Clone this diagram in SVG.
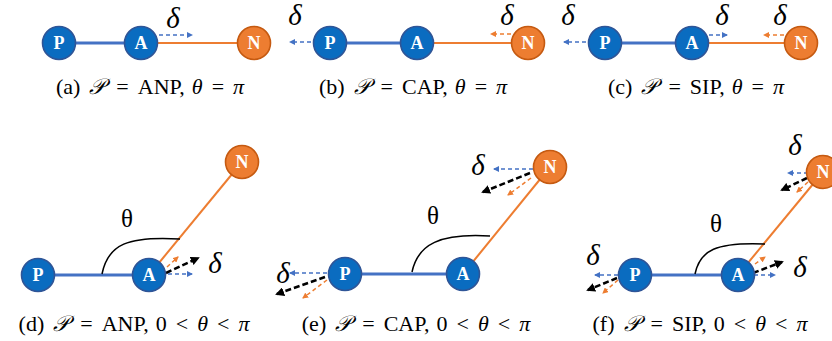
<svg xmlns="http://www.w3.org/2000/svg" width="832" height="341" viewBox="0 0 832 341">
<defs>
<style>
.bg{fill:#fff}
.nb{fill:#0A6CC0;stroke:#2F5597;stroke-width:1.6}
.no{fill:#ED7D31;stroke:#C55A11;stroke-width:1.6}
.lb{font-family:"Liberation Serif",serif;font-weight:bold;font-size:18px;fill:#fff;text-anchor:middle}
.eb{stroke:#4472C4;stroke-width:3;fill:none}
.eo{stroke:#ED7D31;stroke-width:2;fill:none}
.db{stroke:#4472C4;stroke-width:1.5;stroke-dasharray:4 3;fill:none;marker-end:url(#mb)}
.do{stroke:#ED7D31;stroke-width:1.5;stroke-dasharray:4 3;fill:none;marker-end:url(#mo)}
.dk{stroke:#000;stroke-width:2.5;stroke-dasharray:6 3;fill:none;marker-end:url(#mk)}
.arc{stroke:#000;stroke-width:1.5;fill:none}
.dl{font-family:"Liberation Serif",serif;font-style:italic;font-size:29px;fill:#000;text-anchor:middle}
.th{font-family:"Liberation Serif",serif;font-size:25px;fill:#000;text-anchor:middle}
.cap{font-family:"Liberation Serif","DejaVu Serif",serif;font-size:22px;fill:#000;text-anchor:middle}
.it{font-style:italic}
</style>
<marker id="mb" markerWidth="6" markerHeight="6" refX="5" refY="3" orient="auto" markerUnits="userSpaceOnUse"><path d="M0,0 L6,3 L0,6 Z" fill="#4472C4"/></marker>
<marker id="mo" markerWidth="6" markerHeight="6" refX="5" refY="3" orient="auto" markerUnits="userSpaceOnUse"><path d="M0,0 L6,3 L0,6 Z" fill="#ED7D31"/></marker>
<marker id="mk" markerWidth="9" markerHeight="9" refX="7" refY="4.5" orient="auto" markerUnits="userSpaceOnUse"><path d="M0,0 L9,4.5 L0,9 Z" fill="#000"/></marker>
</defs>
<rect class="bg" x="0" y="0" width="832" height="341"/>

<g id="connectors">
  <line class="eb" x1="59" y1="43" x2="141" y2="43"/>
  <line class="eo" x1="141" y1="43" x2="254" y2="43"/>
  <line class="db" x1="159" y1="35" x2="192" y2="35"/>
  <line class="eb" x1="330" y1="43" x2="417" y2="43"/>
  <line class="eo" x1="417" y1="43" x2="528" y2="43"/>
  <line class="db" x1="311" y1="42" x2="290" y2="42"/>
  <line class="do" x1="511" y1="34" x2="491" y2="34"/>
  <line class="eb" x1="605" y1="43" x2="692" y2="43"/>
  <line class="eo" x1="692" y1="43" x2="801" y2="43"/>
  <line class="db" x1="586" y1="42" x2="564" y2="42"/>
  <line class="db" x1="709" y1="35" x2="727" y2="35"/>
  <line class="do" x1="784" y1="35" x2="764" y2="35"/>
  <line class="eb" x1="38" y1="275" x2="149" y2="275"/>
  <line class="eo" x1="149" y1="275" x2="242" y2="162"/>
  <path class="arc" d="M102,274 C108,244 128,236 180,239"/>
  <line class="do" x1="167" y1="267" x2="178" y2="257"/>
  <line class="dk" x1="166" y1="273" x2="198" y2="258"/>
  <line class="db" x1="168" y1="274" x2="192" y2="274"/>
  <line class="eb" x1="345" y1="274" x2="463" y2="274"/>
  <line class="eo" x1="463" y1="274" x2="550" y2="167"/>
  <path class="arc" d="M412,272 C418,244 440,233 490,236"/>
  <line class="db" x1="533" y1="169" x2="494" y2="169"/>
  <line class="dk" x1="530" y1="173" x2="483" y2="192"/>
  <line class="do" x1="531" y1="178" x2="508" y2="195"/>
  <line class="db" x1="327" y1="273" x2="290" y2="273"/>
  <line class="dk" x1="325" y1="277" x2="277" y2="294"/>
  <line class="do" x1="327" y1="280" x2="303" y2="298"/>
  <line class="eb" x1="635" y1="275" x2="738" y2="275"/>
  <line class="eo" x1="738" y1="275" x2="823" y2="172"/>
  <path class="arc" d="M695,274 C700,250 716,242 765,244"/>
  <line class="db" x1="618" y1="275" x2="595" y2="275"/>
  <line class="dk" x1="617" y1="278" x2="588" y2="290"/>
  <line class="do" x1="618" y1="280" x2="603" y2="293"/>
  <line class="do" x1="755" y1="264" x2="765" y2="257"/>
  <line class="dk" x1="753" y1="273" x2="782" y2="262"/>
  <line class="db" x1="754" y1="275" x2="775" y2="275"/>
  <line class="db" x1="808" y1="173" x2="788" y2="173"/>
  <line class="dk" x1="807" y1="178" x2="782" y2="190"/>
  <line class="do" x1="808" y1="182" x2="797" y2="192"/>
</g>

<g id="a-P"><circle class="nb" cx="59" cy="43" r="16.5"/><text class="lb" x="59" y="49">P</text></g>
<g id="a-A"><circle class="nb" cx="141" cy="43" r="16.5"/><text class="lb" x="141" y="49">A</text></g>
<g id="a-N"><circle class="no" cx="254" cy="43" r="16.5"/><text class="lb" x="254" y="49">N</text></g>
<g id="b-P"><circle class="nb" cx="330" cy="43" r="16.5"/><text class="lb" x="330" y="49">P</text></g>
<g id="b-A"><circle class="nb" cx="417" cy="43" r="16.5"/><text class="lb" x="417" y="49">A</text></g>
<g id="b-N"><circle class="no" cx="528" cy="43" r="16.5"/><text class="lb" x="528" y="49">N</text></g>
<g id="c-P"><circle class="nb" cx="605" cy="43" r="16.5"/><text class="lb" x="605" y="49">P</text></g>
<g id="c-A"><circle class="nb" cx="692" cy="43" r="16.5"/><text class="lb" x="692" y="49">A</text></g>
<g id="c-N"><circle class="no" cx="801" cy="43" r="16.5"/><text class="lb" x="801" y="49">N</text></g>
<g id="d-P"><circle class="nb" cx="38" cy="275" r="16.5"/><text class="lb" x="38" y="281">P</text></g>
<g id="d-A"><circle class="nb" cx="149" cy="275" r="16.5"/><text class="lb" x="149" y="281">A</text></g>
<g id="d-N"><circle class="no" cx="242" cy="162" r="16.5"/><text class="lb" x="242" y="168">N</text></g>
<g id="e-P"><circle class="nb" cx="345" cy="274" r="16.5"/><text class="lb" x="345" y="280">P</text></g>
<g id="e-A"><circle class="nb" cx="463" cy="274" r="16.5"/><text class="lb" x="463" y="280">A</text></g>
<g id="e-N"><circle class="no" cx="550" cy="167" r="16.5"/><text class="lb" x="550" y="173">N</text></g>
<g id="f-P"><circle class="nb" cx="635" cy="275" r="16.5"/><text class="lb" x="635" y="281">P</text></g>
<g id="f-A"><circle class="nb" cx="738" cy="275" r="16.5"/><text class="lb" x="738" y="281">A</text></g>
<g id="f-N"><circle class="no" cx="823" cy="172" r="16.5"/><text class="lb" x="823" y="178">N</text></g>

<g id="labels">
  <text class="dl" x="173" y="28">δ</text>
  <text class="dl" x="295" y="25">δ</text>
  <text class="dl" x="507" y="25">δ</text>
  <text class="dl" x="568" y="25">δ</text>
  <text class="dl" x="722" y="25">δ</text>
  <text class="dl" x="780" y="25">δ</text>
  <text class="dl" x="215" y="273">δ</text>
  <text class="dl" x="478" y="175">δ</text>
  <text class="dl" x="283" y="283">δ</text>
  <text class="dl" x="593" y="265">δ</text>
  <text class="dl" x="800" y="277">δ</text>
  <text class="dl" x="795" y="155">δ</text>
  <text class="th" x="127" y="227">θ</text>
  <text class="th" x="433" y="224">θ</text>
  <text class="th" x="716" y="232">θ</text>
</g>

<g id="captions">
  <text class="cap" x="150" y="94">(a)<tspan class="it" dx="9">𝒫</tspan><tspan dx="11">=</tspan><tspan dx="9">ANP,</tspan><tspan class="it" dx="7">θ</tspan><tspan dx="9">=</tspan><tspan class="it" dx="9">π</tspan></text>
  <text class="cap" x="413" y="94">(b)<tspan class="it" dx="9">𝒫</tspan><tspan dx="11">=</tspan><tspan dx="9">CAP,</tspan><tspan class="it" dx="7">θ</tspan><tspan dx="9">=</tspan><tspan class="it" dx="9">π</tspan></text>
  <text class="cap" x="696" y="94">(c)<tspan class="it" dx="9">𝒫</tspan><tspan dx="11">=</tspan><tspan dx="9">SIP,</tspan><tspan class="it" dx="7">θ</tspan><tspan dx="9">=</tspan><tspan class="it" dx="9">π</tspan></text>
  <text class="cap" x="134" y="331">(d)<tspan class="it" dx="9">𝒫</tspan><tspan dx="11">=</tspan><tspan dx="9">ANP,</tspan><tspan dx="7">0</tspan><tspan dx="9">&lt;</tspan><tspan class="it" dx="9">θ</tspan><tspan dx="9">&lt;</tspan><tspan class="it" dx="9">π</tspan></text>
  <text class="cap" x="416" y="331">(e)<tspan class="it" dx="9">𝒫</tspan><tspan dx="11">=</tspan><tspan dx="9">CAP,</tspan><tspan dx="7">0</tspan><tspan dx="9">&lt;</tspan><tspan class="it" dx="9">θ</tspan><tspan dx="9">&lt;</tspan><tspan class="it" dx="9">π</tspan></text>
  <text class="cap" x="700" y="331">(f)<tspan class="it" dx="9">𝒫</tspan><tspan dx="11">=</tspan><tspan dx="9">SIP,</tspan><tspan dx="7">0</tspan><tspan dx="9">&lt;</tspan><tspan class="it" dx="9">θ</tspan><tspan dx="9">&lt;</tspan><tspan class="it" dx="9">π</tspan></text>
</g>
</svg>
